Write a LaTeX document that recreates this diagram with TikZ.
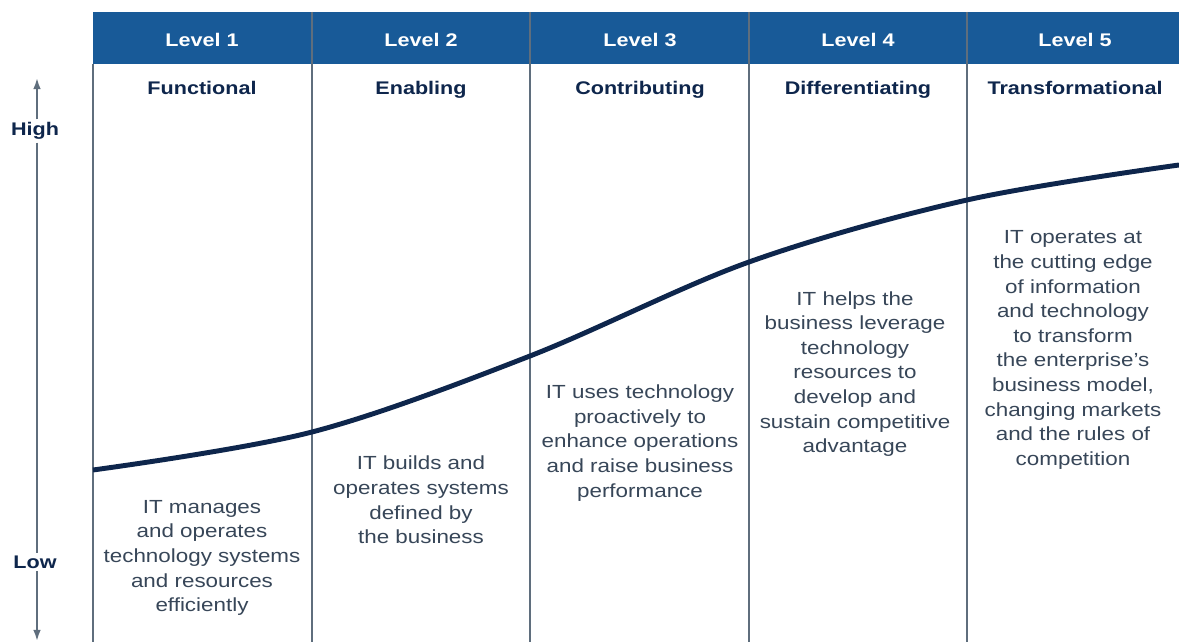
\documentclass[tikz,border=0pt]{standalone}
\usepackage{fontspec}
\setmainfont{Liberation Sans}[FakeStretch=1.18]
\usetikzlibrary{arrows,arrows.meta,positioning}
\definecolor{hdrblue}{RGB}{24,90,152}
\definecolor{navy}{RGB}{14,38,76}
\definecolor{rulegray}{RGB}{95,110,125}
\definecolor{textgray}{RGB}{55,70,88}
\tikzset{
     hdr/.style={text=white, anchor=base, font=\bfseries\fontsize{13}{15}\selectfont},
     lvl/.style={text=navy, anchor=base, font=\bfseries\fontsize{13}{15}\selectfont},
     desc/.style={text=textgray, align=center, font=\fontsize{13.5}{17.5}\selectfont, inner sep=0pt},
     axlbl/.style={text=navy, font=\bfseries\fontsize{13}{15}\selectfont, inner sep=2pt},
     sep/.style={draw=rulegray, line width=1pt},
     curve/.style={draw=navy, line width=3.5pt},
     axis/.style={draw=rulegray, line width=1.3pt},
}
\tikzset{>={Latex[length=8pt,width=5.5pt]}}

\begin{document}
\begin{tikzpicture}[x=0.025cm, y=-0.025cm]
		\useasboundingbox[fill=white] (0,0) rectangle (1179,642);

		%% header band
		\fill[hdrblue] (93,12) rectangle (1179,64);
		\draw[sep] (93,64) -- (93,642);
		\foreach \x in {312,530,749,967}{
			\draw[sep] (\x,12) -- (\x,642);
		}

		%% level titles
		\node[hdr] (lv1) at (202,47) {Level 1};
		\node[hdr] (lv2) at (421,47) {Level 2};
		\node[hdr] (lv3) at (640,47) {Level 3};
		\node[hdr] (lv4) at (858,47) {Level 4};
		\node[hdr] (lv5) at (1075,47) {Level 5};

		\node[lvl] (nm1) at (202,95) {Functional};
		\node[lvl] (nm2) at (421,95) {Enabling};
		\node[lvl] (nm3) at (640,95) {Contributing};
		\node[lvl] (nm4) at (858,95) {Differentiating};
		\node[lvl] (nm5) at (1075,95) {Transformational};

		%% the curve
		\draw[curve] plot[smooth, tension=0.55] coordinates
			{(93,470) (312,432) (530,356) (749,262) (967,200) (1179,165)};

		%% descriptions
		\node[desc] (d1) at (202,558) {IT manages\\and operates\\technology systems\\and resources\\efficiently};
		\node[desc] (d2) at (421,500) {IT builds and\\operates systems\\defined by\\the business};
		\node[desc] (d3) at (640,443) {IT uses technology\\proactively to\\enhance operations\\and raise business\\performance};
		\node[desc] (d4) at (855,374) {IT helps the\\business leverage\\technology\\resources to\\develop and\\sustain competitive\\advantage};
		\node[desc] (d5) at (1073,350) {IT operates at\\the cutting edge\\of information\\and technology\\to transform\\the enterprise's\\business model,\\changing markets\\and the rules of\\competition};

		%% axis
		\node[axlbl] (high) at (35,131) {High};
		\node[axlbl] (low) at (35,562) {Low};
		\coordinate (top) at (37,78);
		\coordinate (bot) at (37,641);
		\draw[->, axis] (high.north -| top) -- (top);
		\draw[axis] (high.south -| top) -- (low.north -| top);
		\draw[->, axis] (low.south -| bot) -- (bot);
\end{tikzpicture}
\end{document}
